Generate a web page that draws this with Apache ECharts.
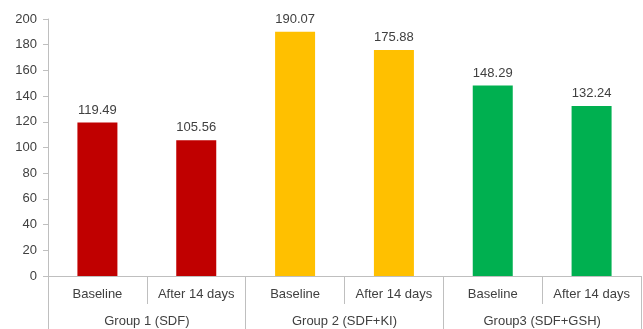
<!DOCTYPE html>
<html>
<head>
<meta charset="utf-8">
<script src="https://cdn.jsdelivr.net/npm/echarts@6/dist/echarts.min.js"></script>
<style>
  html, body { margin: 0; padding: 0; background: #fff; }
  #chart { width: 643px; height: 329px; }
</style>
</head>
<body>
<div id="chart"></div>
<script>
// Measurement per time point, grouped by treatment
const timePoints = ['Baseline', 'After 14 days', 'Baseline', 'After 14 days', 'Baseline', 'After 14 days'];
const groups = ['Group 1 (SDF)', 'Group 2 (SDF+KI)', 'Group3 (SDF+GSH)'];
const values = [119.49, 105.56, 190.07, 175.88, 148.29, 132.24];
const groupColors = ['#c00000', '#c00000', '#ffc000', '#ffc000', '#00b050', '#00b050'];
const yTicks = { min: 0, max: 200, step: 20 };

const axisGray = '#bfbfbf';
const textGray = '#404040';
const font = 'Liberation Sans, Arial, sans-serif';

const chart = echarts.init(document.getElementById('chart'), null, { renderer: 'canvas' });
chart.setOption({
  animation: false,
  grid: { left: 48, right: 2, top: 19, bottom: 53 },
  xAxis: [
    {
      type: 'category',
      data: timePoints,
      axisLine: { lineStyle: { color: axisGray, width: 1 } },
      axisTick: { show: true, length: 28, lineStyle: { color: axisGray } },
      axisLabel: { color: textGray, fontSize: 13, fontFamily: font, margin: 12, interval: 0 }
    },
    {
      type: 'category',
      data: groups,
      position: 'bottom',
      axisLine: { show: false },
      axisTick: { show: true, length: 56, lineStyle: { color: axisGray } },
      axisLabel: { color: textGray, fontSize: 13, fontFamily: font, margin: 39, interval: 0 }
    }
  ],
  yAxis: {
    type: 'value',
    min: yTicks.min,
    max: yTicks.max,
    interval: yTicks.step,
    axisLine: { show: true, lineStyle: { color: axisGray } },
    axisTick: { show: true, length: 5, lineStyle: { color: axisGray } },
    splitLine: { show: false },
    axisLabel: { color: textGray, fontSize: 13, fontFamily: font, margin: 11 }
  },
  series: [{
    type: 'bar',
    xAxisIndex: 0,
    barWidth: 40,
    data: values.map((v, i) => ({ value: v, itemStyle: { color: groupColors[i] } })),
    label: {
      show: true,
      position: 'top',
      distance: 6,
      color: textGray,
      fontSize: 13,
      fontFamily: font,
      formatter: p => p.value.toFixed(2)
    }
  }]
});
</script>
</body>
</html>
